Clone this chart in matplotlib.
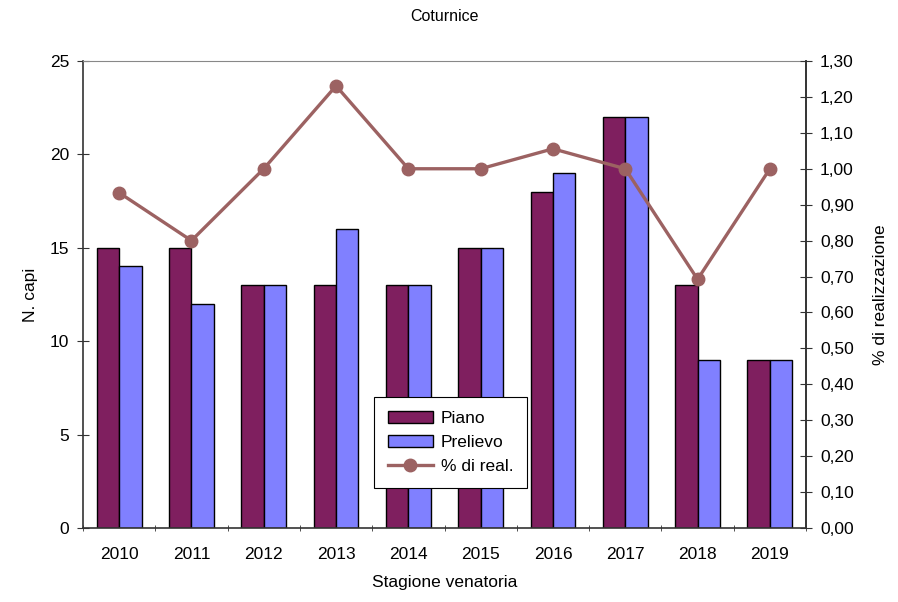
import matplotlib
matplotlib.use('Agg')
import matplotlib.pyplot as plt
import numpy as np

plt.rcParams['font.family'] = ['Liberation Sans', 'DejaVu Sans']

# hunting seasons and counts
stagioni = ['2010', '2011', '2012', '2013', '2014', '2015', '2016', '2017', '2018', '2019']
piano = [15, 15, 13, 13, 13, 15, 18, 22, 13, 9]
prelievo = [14, 12, 13, 16, 13, 15, 19, 22, 9, 9]
perc_real = [p / q for p, q in zip(prelievo, piano)]

col_piano = '#7F1F5F'
col_prel = '#8080FF'
col_line = '#9C6262'
fs = 12.5

fig = plt.figure(figsize=(8.98, 6.02), dpi=100)
ax = fig.add_axes([0.0924, 0.1229, 0.8052, 0.7758])
x = np.arange(len(stagioni))
w = 0.31

b1 = ax.bar(x - w / 2, piano, w, color=col_piano, edgecolor='black', linewidth=1.0, label='Piano', zorder=2)
b2 = ax.bar(x + w / 2, prelievo, w, color=col_prel, edgecolor='black', linewidth=1.0, label='Prelievo', zorder=2)

ax.set_xlim(-0.5, len(stagioni) - 0.5)
ax.set_ylim(0, 25)
ax.set_yticks(range(0, 26, 5))
ax.set_xticks(x)
ax.set_xticklabels(stagioni)
ax.set_xticks(np.arange(-0.5, len(stagioni)), minor=True)
ax.tick_params(axis='x', which='major', length=0, pad=14, labelsize=fs)
ax.tick_params(axis='x', which='minor', length=5, direction='inout', color='#333333')
ax.tick_params(axis='y', length=8, direction='inout', color='#333333', labelsize=fs, pad=6)
ax.set_ylabel('N. capi', fontsize=fs, labelpad=8)
ax.set_xlabel('Stagione venatoria', fontsize=fs, labelpad=9)
ax.set_title('Coturnice', fontsize=11.5, pad=29)

for s in ['left', 'bottom', 'right']:
    ax.spines[s].set_color('#333333')
    ax.spines[s].set_linewidth(1.2)
ax.spines['top'].set_color('#888888')
ax.spines['top'].set_linewidth(0.8)

ax2 = ax.twinx()
l1, = ax2.plot(x, perc_real, color=col_line, linewidth=2.4, marker='o', markersize=9,
               label='% di real.', zorder=3)
ax2.set_ylim(0, 1.3)
ticks2 = np.arange(0, 1.31, 0.1)
ax2.set_yticks(ticks2)
ax2.set_yticklabels([f'{t:.2f}'.replace('.', ',') for t in ticks2])
ax2.tick_params(axis='y', length=8, direction='inout', color='#333333', labelsize=fs, pad=6)
ax2.set_ylabel('% di realizzazione', fontsize=fs, labelpad=14)
for s in ['left', 'bottom', 'top']:
    ax2.spines[s].set_visible(False)
ax2.spines['right'].set_color('#333333')
ax2.spines['right'].set_linewidth(1.2)

leg = ax2.legend([b1, b2, l1], ['Piano', 'Prelievo', '% di real.'],
                 loc='lower left', bbox_to_anchor=(0.4025, 0.0857),
                 fancybox=False, framealpha=1, edgecolor='black', fontsize=fs,
                 borderpad=0.8, handlelength=2.6, labelspacing=0.5, borderaxespad=0,
                 handletextpad=0.45)
leg.get_frame().set_linewidth(0.8)

fig.savefig('out.png', dpi=100)
